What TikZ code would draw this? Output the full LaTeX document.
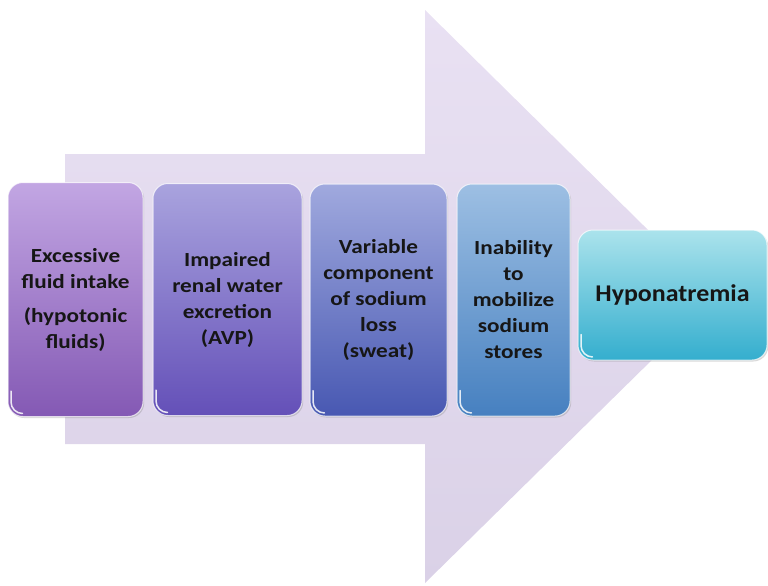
\documentclass[tikz,border=0pt]{standalone}
\usepackage{fontspec}
\setmainfont{Carlito}
\newfontfamily\stagefont{Carlito}[FakeStretch=1.16]
\newfontfamily\resultfont{Carlito}[FakeStretch=1.08]
\usetikzlibrary{shadows}
\definecolor{arrowtop}{HTML}{E9E1F3}
\definecolor{arrowbot}{HTML}{DAD1E7}
\definecolor{c1top}{HTML}{C2A6E3}
\definecolor{c1bot}{HTML}{8459B4}
\definecolor{c2top}{HTML}{A9A3DE}
\definecolor{c2bot}{HTML}{6450B8}
\definecolor{c3top}{HTML}{A0A9DE}
\definecolor{c3bot}{HTML}{4858B2}
\definecolor{c4top}{HTML}{9DBFE3}
\definecolor{c4bot}{HTML}{4680C0}
\definecolor{c5top}{HTML}{ABE3EC}
\definecolor{c5bot}{HTML}{34AECE}
\definecolor{ink}{HTML}{161616}
\tikzset{
  stage/.style={rectangle, rounded corners=15pt, align=center, inner sep=2pt,
    draw=white, draw opacity=0.7, line width=1pt,
    drop shadow={shadow xshift=1.2pt, shadow yshift=-1.5pt, opacity=0.3},
    font=\stagefont\fontsize{20}{26}\selectfont\bfseries, text=ink},
  result/.style={stage, font=\resultfont\fontsize{24}{28}\selectfont\bfseries},
  gloss/.style={draw=white, line width=1.5pt, line cap=round, draw opacity=0.85}
}
% glossy highlight following the lower left rounded corner of a box
\newcommand\glossat[1]{%
  \draw[gloss] ([shift={(3.5,-26)}]#1.south west)
    -- ([shift={(3.5,-15)}]#1.south west)
    .. controls ([shift={(3.5,-8.7)}]#1.south west) and ([shift={(8.7,-3.5)}]#1.south west)
    .. ([shift={(15,-3.5)}]#1.south west);}
\begin{document}
\begin{tikzpicture}[x=1pt, y=-1pt]
  \useasboundingbox (0,0) rectangle (768,586);
  % broad background arrow
  \shade[top color=arrowtop, bottom color=arrowbot]
    (65,154) -- (425,154) -- (425,10) -- (716,297) -- (425,583)
    -- (425,444) -- (65,444) -- cycle;
  % stages
  \node[stage, top color=c1top, bottom color=c1bot,
        minimum width=135pt, minimum height=234pt] (s1) at (75.5,299.5)
    {Excessive\\fluid intake\\[8pt](hypotonic\\fluids)};
  \node[stage, top color=c2top, bottom color=c2bot,
        minimum width=149pt, minimum height=232pt] (s2) at (227.5,299.5)
    {Impaired\\renal water\\excretion\\(AVP)};
  \node[stage, top color=c3top, bottom color=c3bot,
        minimum width=137pt, minimum height=232pt] (s3) at (378.5,300)
    {Variable\\component\\of sodium\\loss\\(sweat)};
  \node[stage, top color=c4top, bottom color=c4bot,
        minimum width=113pt, minimum height=232pt] (s4) at (513.5,300)
    {Inability\\to\\mobilize\\sodium\\stores};
  \node[result, top color=c5top, bottom color=c5bot,
        minimum width=189pt, minimum height=130pt] (s5) at (672.5,295)
    {Hyponatremia};
  \glossat{s1}\glossat{s2}\glossat{s3}\glossat{s4}\glossat{s5}
\end{tikzpicture}
\end{document}
